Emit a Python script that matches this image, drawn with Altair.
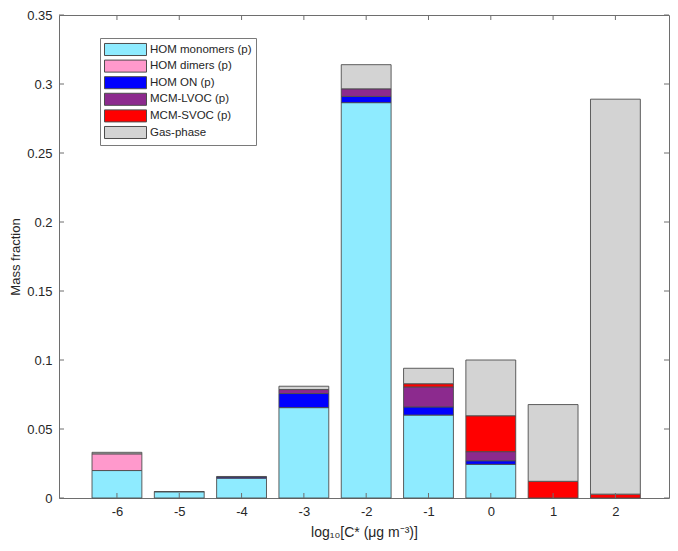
import altair as alt
import pandas as pd

# ---- data ----
cats = [-6, -5, -4, -3, -2, -1, 0, 1, 2]
series_names = ["HOM monomers (p)", "HOM dimers (p)", "HOM ON (p)",
                "MCM-LVOC (p)", "MCM-SVOC (p)", "Gas-phase"]
hom_monomers = [0.0199, 0.0045, 0.0144, 0.0655, 0.2865, 0.0601, 0.0244, 0.0, 0.0]
hom_dimers = [0.0121, 0.0, 0.0, 0.0, 0.0, 0.0, 0.0, 0.0, 0.0]
hom_on = [0.0, 0.0, 0.0008, 0.0102, 0.0045, 0.0059, 0.0026, 0.0, 0.0]
mcm_lvoc = [0.0, 0.0, 0.0, 0.0029, 0.0055, 0.0145, 0.0066, 0.0, 0.0]
mcm_svoc = [0.0, 0.0, 0.0, 0.0, 0.0, 0.0023, 0.0260, 0.0121, 0.0028]
gas_phase = [0.0011, 0.0002, 0.0004, 0.0024, 0.0175, 0.0112, 0.0404, 0.0556, 0.2862]
y_ticks = [0, 0.05, 0.1, 0.15, 0.2, 0.25, 0.3, 0.35]
colors = ["#8EEBFF", "#FF99CC", "#0000FF", "#8C2A8E", "#FF0000", "#D3D3D3"]

series_values = [hom_monomers, hom_dimers, hom_on, mcm_lvoc, mcm_svoc, gas_phase]
rows = []
for k, (name, vals) in enumerate(zip(series_names, series_values)):
    for c, v in zip(cats, vals):
        if v > 0:
            rows.append({"cat": c, "series": name, "order": k, "value": v})
df = pd.DataFrame(rows)

W, H = 610, 483
FONT = "Liberation Sans"
TXT = "#262626"
AX = "#6e6e6e"

xscale = alt.Scale(domain=[-6.93, 2.86], nice=False, zero=False)
yscale = alt.Scale(domain=[0, 0.35], nice=False, zero=True)
xaxis = alt.Axis(values=cats, ticks=False, domain=False, grid=False,
                 labelExpr="'' + datum.value", labelPadding=7,
                 labelFontSize=13, labelColor=TXT, labelFont=FONT,
                 title="log₁₀[C* (μg m⁻³)]", titleFont=FONT, titleFontSize=14,
                 titleFontWeight="normal", titleColor=TXT, titlePadding=7)
yaxis = alt.Axis(values=y_ticks, ticks=False, domain=False, grid=False,
                 format="~g", labelPadding=7,
                 labelFontSize=13, labelColor=TXT, labelFont=FONT,
                 title="Mass fraction", titleFont=FONT, titleFontSize=13,
                 titleFontWeight="normal", titleColor=TXT, titlePadding=4)

bars = alt.Chart(df).transform_stack(
    stack="value", groupby=["cat"], as_=["y0", "y1"],
    sort=[alt.SortField("order", order="ascending")]
).transform_calculate(
    xa="datum.cat - 0.4", xb="datum.cat + 0.4"
).mark_bar(stroke="#4d4d4d", strokeWidth=0.9).encode(
    x=alt.X("xa:Q", scale=xscale, axis=xaxis),
    x2="xb:Q",
    y=alt.Y("y0:Q", scale=yscale, axis=yaxis),
    y2="y1:Q",
    color=alt.Color("series:N", scale=alt.Scale(domain=series_names, range=colors),
                    legend=alt.Legend(
                        title=None, orient="none", legendX=41, legendY=23,
                        padding=4, strokeColor="#7a7a7a", fillColor="white",
                        symbolType="M-1,-0.86H5V0.86H-1Z", symbolSize=196,
                        symbolStrokeColor="#4d4d4d", symbolStrokeWidth=1,
                        symbolOpacity=1,
                        labelFont=FONT, labelFontSize=11.5, labelColor=TXT,
                        labelOffset=31, rowPadding=-0.4)),
    order=alt.Order("order:Q"),
)

ytick_df = pd.DataFrame({"v": y_ticks})
xtick_df = pd.DataFrame({"c": cats})

ytick_l = alt.Chart(ytick_df).mark_rule(color=AX, strokeWidth=1).encode(
    y=alt.Y("v:Q", scale=yscale, axis=yaxis), x=alt.value(0), x2=alt.value(5))
ytick_r = alt.Chart(ytick_df).mark_rule(color=AX, strokeWidth=1).encode(
    y=alt.Y("v:Q", scale=yscale, axis=yaxis), x=alt.value(W - 5), x2=alt.value(W))
xtick_b = alt.Chart(xtick_df).mark_rule(color=AX, strokeWidth=1).encode(
    x=alt.X("c:Q", scale=xscale, axis=xaxis), y=alt.value(H - 5), y2=alt.value(H))
xtick_t = alt.Chart(xtick_df).mark_rule(color=AX, strokeWidth=1).encode(
    x=alt.X("c:Q", scale=xscale, axis=xaxis), y=alt.value(0), y2=alt.value(5))

chart = alt.layer(bars, ytick_l, ytick_r, xtick_b, xtick_t).properties(
    width=W, height=H,
    autosize=alt.AutoSizeParams(type="none"),
    padding={"left": 51, "top": 7, "right": 1, "bottom": 46},
    background="white",
).configure_view(stroke=AX, strokeWidth=1)

chart.save("out.html", embed_options={"renderer": "svg", "actions": False})
